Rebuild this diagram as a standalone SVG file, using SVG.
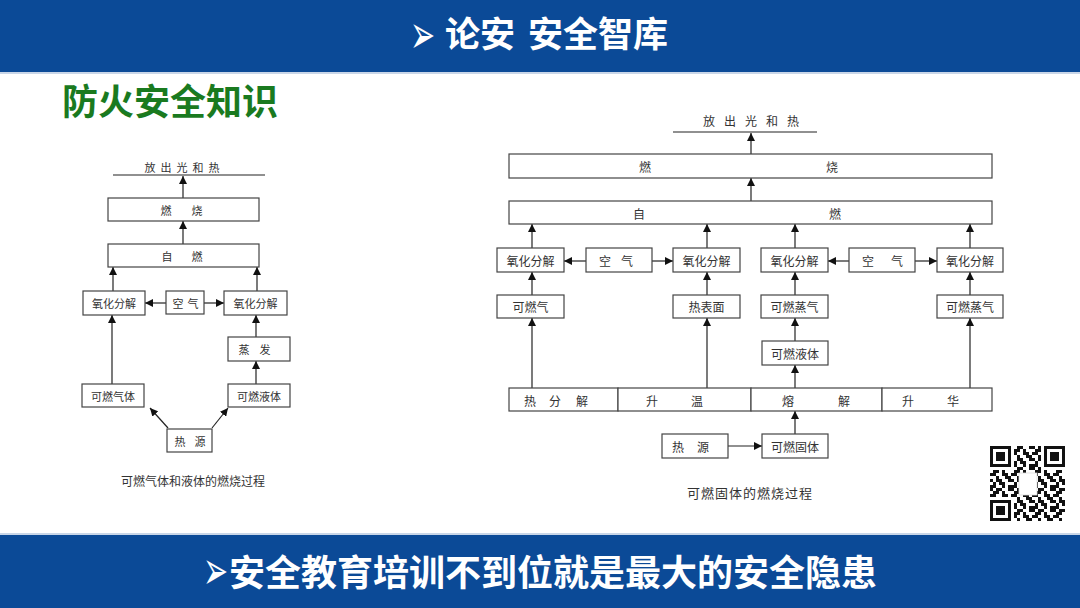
<svg xmlns="http://www.w3.org/2000/svg" width="1080" height="608" viewBox="0 0 1080 608">
<defs>
<marker id="ah" markerUnits="userSpaceOnUse" markerWidth="8" markerHeight="8" refX="8" refY="4" orient="auto">
<path d="M0,0 L8,4 L0,8 z" fill="#111"/>
</marker>
<pattern id="qrp" patternUnits="userSpaceOnUse" x="990" y="446" width="21" height="21">
<path fill="#111" d="M0 0h3v3h-3zM6 0h6v3h-6zM18 0h3v3h-3zM3 3h6v3h-6zM12 3h3v3h-3zM0 6h6v3h-6zM12 6h6v3h-6zM6 9h3v3h-3zM15 9h6v3h-6zM0 12h3v3h-3zM6 12h6v3h-6zM18 12h3v3h-3zM3 15h3v3h-3zM9 15h6v3h-6zM0 18h6v3h-6zM12 18h3v3h-3zM18 18h3v3h-3z"/>
</pattern>
</defs>
<style>
.box{fill:#fff;stroke:#444;stroke-width:1.2}
.t{font-family:"Noto Sans CJK SC","Noto Sans",sans-serif;fill:#333;dominant-baseline:central;text-anchor:middle}
.s{font-size:11px}
.m{font-size:12px}
.c{stroke:#222;stroke-width:1.2;fill:none}
.a{marker-end:url(#ah)}
.bul{font-family:"DejaVu Sans",sans-serif;font-size:30px;fill:#fff}
</style>
<rect width="1080" height="608" fill="#fff"/>
<!-- header -->
<rect x="0" y="0" width="1080" height="72" fill="#0b4a97"/>
<rect x="0" y="72" width="1080" height="2" fill="#c9d6e8"/>
<text class="bul" transform="translate(410,53) scale(1,1.8)">➢</text>
<text y="47" font-family="Noto Sans CJK SC,sans-serif" font-size="35" font-weight="bold" fill="#fff"><tspan x="445">论安</tspan><tspan x="528">安全智库</tspan></text>
<!-- title -->
<text x="62" y="115" font-family="Noto Sans CJK SC,sans-serif" font-size="36" font-weight="bold" fill="#1a7a1f">防火安全知识</text>
<!-- footer -->
<rect x="0" y="533" width="1080" height="2" fill="#c9d6e8"/>
<rect x="0" y="535" width="1080" height="73" fill="#0b4a97"/>
<text class="bul" transform="translate(203,589) scale(1,1.8)">➢</text>
<text x="229" y="586" font-family="Noto Sans CJK SC,sans-serif" font-size="36" font-weight="bold" fill="#fff">安全教育培训不到位就是最大的安全隐患</text>

<!-- LEFT DIAGRAM -->
<g id="connectors-left">
<line class="c" x1="113" y1="175" x2="265" y2="175"/>
<line class="c a" x1="183" y1="198" x2="183" y2="176"/>
<line class="c a" x1="183" y1="244" x2="183" y2="221"/>
<line class="c a" x1="113" y1="291" x2="113" y2="267"/>
<line class="c a" x1="257" y1="291" x2="257" y2="267"/>
<line class="c a" x1="166" y1="303" x2="145" y2="303"/>
<line class="c a" x1="204" y1="303" x2="224" y2="303"/>
<line class="c a" x1="112" y1="384" x2="112" y2="315"/>
<line class="c a" x1="256" y1="337" x2="256" y2="315"/>
<line class="c a" x1="256" y1="384" x2="256" y2="361"/>
<line class="c a" x1="168" y1="428" x2="150" y2="408"/>
<line class="c a" x1="212" y1="428" x2="228" y2="408"/>
</g>
<g id="l-light"><text class="t s" y="167"><tspan x="150">放</tspan><tspan x="166">出</tspan><tspan x="182">光</tspan><tspan x="198">和</tspan><tspan x="214">热</tspan></text></g>
<g id="l-burn"><rect class="box" x="108" y="198" width="151" height="23"/><text class="t s" y="210"><tspan x="166">燃</tspan><tspan x="197">烧</tspan></text></g>
<g id="l-self"><rect class="box" x="108" y="244" width="151" height="23"/><text class="t s" y="256"><tspan x="167">自</tspan><tspan x="197">燃</tspan></text></g>
<g id="l-ox1"><rect class="box" x="83" y="291" width="62" height="24"/><text class="t s" x="114" y="303">氧化分解</text></g>
<g id="l-air"><rect class="box" x="166" y="291" width="38" height="23"/><text class="t s" y="303"><tspan x="178">空</tspan><tspan x="193">气</tspan></text></g>
<g id="l-ox2"><rect class="box" x="224" y="291" width="63" height="24"/><text class="t s" x="255.5" y="303">氧化分解</text></g>
<g id="l-evap"><rect class="box" x="228" y="337" width="62" height="24"/><text class="t s" y="349"><tspan x="244">蒸</tspan><tspan x="265">发</tspan></text></g>
<g id="l-gas"><rect class="box" x="82" y="384" width="62" height="23"/><text class="t s" x="113" y="395.5">可燃气体</text></g>
<g id="l-liq"><rect class="box" x="228" y="384" width="62" height="23"/><text class="t s" x="259" y="395.5">可燃液体</text></g>
<g id="l-heat"><rect class="box" x="167" y="429" width="45" height="23"/><text class="t s" y="440.5"><tspan x="180">热</tspan><tspan x="200">源</tspan></text></g>
<text class="t m" x="193" y="480">可燃气体和液体的燃烧过程</text>

<!-- RIGHT DIAGRAM -->
<g id="connectors-right">
<line class="c" x1="673" y1="132" x2="817" y2="132"/>
<line class="c a" x1="751" y1="154" x2="751" y2="133"/>
<line class="c a" x1="751" y1="201" x2="751" y2="178"/>
<line class="c a" x1="532" y1="248" x2="532" y2="224"/>
<line class="c a" x1="707" y1="248" x2="707" y2="224"/>
<line class="c a" x1="795" y1="248" x2="795" y2="224"/>
<line class="c a" x1="970" y1="248" x2="970" y2="224"/>
<line class="c a" x1="586" y1="261" x2="564" y2="261"/>
<line class="c a" x1="652" y1="261" x2="673" y2="261"/>
<line class="c a" x1="849" y1="261" x2="828" y2="261"/>
<line class="c a" x1="915" y1="261" x2="937" y2="261"/>
<line class="c a" x1="532" y1="295" x2="532" y2="272"/>
<line class="c a" x1="707" y1="295" x2="707" y2="272"/>
<line class="c a" x1="795" y1="295" x2="795" y2="272"/>
<line class="c a" x1="970" y1="295" x2="970" y2="272"/>
<line class="c a" x1="532" y1="388" x2="532" y2="318"/>
<line class="c a" x1="707" y1="388" x2="707" y2="318"/>
<line class="c a" x1="970" y1="388" x2="970" y2="318"/>
<line class="c a" x1="795" y1="341" x2="795" y2="318"/>
<line class="c a" x1="795" y1="388" x2="795" y2="365"/>
<line class="c a" x1="728" y1="446" x2="762" y2="446"/>
<line class="c a" x1="795" y1="434" x2="795" y2="411"/>
</g>
<g id="r-light"><text class="t m" y="120"><tspan x="709">放</tspan><tspan x="730">出</tspan><tspan x="751">光</tspan><tspan x="772">和</tspan><tspan x="793">热</tspan></text></g>
<g id="r-burn"><rect class="box" x="509" y="154" width="483" height="24"/><text class="t m" y="166"><tspan x="645">燃</tspan><tspan x="832">烧</tspan></text></g>
<g id="r-self"><rect class="box" x="509" y="201" width="483" height="23"/><text class="t m" y="212.5"><tspan x="639">自</tspan><tspan x="835">燃</tspan></text></g>
<g id="r-ox1"><rect class="box" x="497" y="248" width="67" height="24"/><text class="t m" x="530.5" y="260">氧化分解</text></g>
<g id="r-air1"><rect class="box" x="586" y="248" width="66" height="24"/><text class="t m" y="260"><tspan x="605">空</tspan><tspan x="627">气</tspan></text></g>
<g id="r-ox2"><rect class="box" x="673" y="248" width="67" height="24"/><text class="t m" x="706.5" y="260">氧化分解</text></g>
<g id="r-ox3"><rect class="box" x="761" y="248" width="67" height="24"/><text class="t m" x="794.5" y="260">氧化分解</text></g>
<g id="r-air2"><rect class="box" x="849" y="248" width="66" height="24"/><text class="t m" y="260"><tspan x="868">空</tspan><tspan x="897">气</tspan></text></g>
<g id="r-ox4"><rect class="box" x="937" y="248" width="66" height="24"/><text class="t m" x="970" y="260">氧化分解</text></g>
<g id="r-gas"><rect class="box" x="497" y="295" width="67" height="23"/><text class="t m" x="530.5" y="306.5">可燃气</text></g>
<g id="r-surf"><rect class="box" x="673" y="295" width="67" height="23"/><text class="t m" x="706.5" y="306.5">热表面</text></g>
<g id="r-vap1"><rect class="box" x="761" y="295" width="67" height="23"/><text class="t m" x="794.5" y="306.5">可燃蒸气</text></g>
<g id="r-vap2"><rect class="box" x="937" y="295" width="66" height="23"/><text class="t m" x="970" y="306.5">可燃蒸气</text></g>
<g id="r-liq"><rect class="box" x="762" y="341" width="66" height="24"/><text class="t m" x="795" y="353">可燃液体</text></g>
<g id="r-pyro"><rect class="box" x="509" y="388" width="109" height="23"/><text class="t m" y="399.5"><tspan x="530">热</tspan><tspan x="555">分</tspan><tspan x="582">解</tspan></text></g>
<g id="r-warm"><rect class="box" x="618" y="388" width="133" height="23"/><text class="t m" y="399.5"><tspan x="652">升</tspan><tspan x="697">温</tspan></text></g>
<g id="r-melt"><rect class="box" x="751" y="388" width="131" height="23"/><text class="t m" y="399.5"><tspan x="788">熔</tspan><tspan x="844">解</tspan></text></g>
<g id="r-subl"><rect class="box" x="882" y="388" width="110" height="23"/><text class="t m" y="399.5"><tspan x="908">升</tspan><tspan x="953">华</tspan></text></g>
<g id="r-heat"><rect class="box" x="662" y="434" width="66" height="24"/><text class="t m" y="446"><tspan x="678">热</tspan><tspan x="703">源</tspan></text></g>
<g id="r-solid"><rect class="box" x="762" y="434" width="66" height="24"/><text class="t m" x="795" y="446">可燃固体</text></g>
<text class="t" x="750" y="492" font-size="13" letter-spacing="1">可燃固体的燃烧过程</text>

<!-- QR code -->
<g id="qr">
<rect x="986" y="442" width="84" height="84" fill="#fff"/>
<rect x="990" y="446" width="75" height="75" fill="url(#qrp)"/>
<rect x="990" y="446" width="24" height="24" fill="#fff"/>
<rect x="1041" y="446" width="24" height="24" fill="#fff"/>
<rect x="990" y="497" width="24" height="24" fill="#fff"/>
<g fill="#111">
<rect x="990" y="446" width="21" height="21"/>
<rect x="1044" y="446" width="21" height="21"/>
<rect x="990" y="500" width="21" height="21"/>
</g>
<g fill="#fff">
<rect x="993" y="449" width="15" height="15"/>
<rect x="1047" y="449" width="15" height="15"/>
<rect x="993" y="503" width="15" height="15"/>
</g>
<g fill="#111">
<rect x="996" y="452" width="9" height="9"/>
<rect x="1050" y="452" width="9" height="9"/>
<rect x="996" y="506" width="9" height="9"/>
</g>
<rect x="1019" y="473" width="18" height="22" fill="#fff" stroke="#ddd" stroke-width="0.8"/>
</g>
</svg>
